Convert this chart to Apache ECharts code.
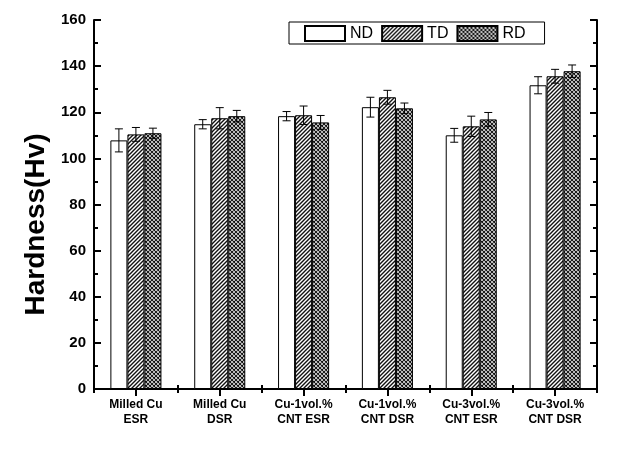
<!DOCTYPE html>
<html>
<head>
<meta charset="utf-8">
<script src="https://cdn.jsdelivr.net/npm/echarts@6/dist/echarts.min.js"></script>
<style>html,body{margin:0;padding:0;background:#fff}#c{width:644px;height:458px}</style>
</head>
<body>
<div id="c"></div>
<script>
var categories = ['Milled Cu\nESR','Milled Cu\nDSR','Cu-1vol.%\nCNT ESR','Cu-1vol.%\nCNT DSR','Cu-3vol.%\nCNT ESR','Cu-3vol.%\nCNT DSR'];
var seriesNames = ['ND','TD','RD'];
var ndValues = [107.8, 114.8, 118.3, 122.2, 110.0, 131.7];
var ndErr    = [5.0, 2.0, 2.0, 4.3, 3.0, 3.7];
var tdValues = [110.4, 117.4, 118.7, 126.5, 113.9, 135.6];
var tdErr    = [3.0, 4.6, 4.0, 3.0, 4.4, 3.0];
var rdValues = [110.9, 118.3, 115.6, 121.7, 116.9, 137.8];
var rdErr    = [2.2, 2.5, 3.0, 2.3, 3.0, 2.7];
var yTicks = [0, 20, 40, 60, 80, 100, 120, 140, 160];

function makeHatch() {
  var c = document.createElement('canvas'); c.width = 4; c.height = 4;
  var g = c.getContext('2d');
  g.fillStyle = '#fff'; g.fillRect(0,0,4,4);
  g.strokeStyle = '#111'; g.lineWidth = 1.4;
  g.beginPath();
  g.moveTo(-1,5); g.lineTo(5,-1);
  g.moveTo(-1,1); g.lineTo(1,-1);
  g.moveTo(3,5); g.lineTo(5,3);
  g.stroke();
  return c;
}
function makeCross() {
  var c = document.createElement('canvas'); c.width = 4; c.height = 4;
  var g = c.getContext('2d');
  g.fillStyle = '#fff'; g.fillRect(0,0,4,4);
  g.strokeStyle = '#111'; g.lineWidth = 1.1;
  g.beginPath();
  g.moveTo(-1,5); g.lineTo(5,-1);
  g.moveTo(-1,1); g.lineTo(1,-1);
  g.moveTo(3,5); g.lineTo(5,3);
  g.moveTo(-1,-1); g.lineTo(5,5);
  g.moveTo(-1,3); g.lineTo(1,5);
  g.moveTo(3,-1); g.lineTo(5,1);
  g.stroke();
  return c;
}

var fills = ['#ffffff', {image: makeHatch(), repeat: 'repeat'}, {image: makeCross(), repeat: 'repeat'}];
var values = [ndValues, tdValues, rdValues];
var errs = [ndErr, tdErr, rdErr];
var BARFRAC = 0.203;

var series = [];
seriesNames.forEach(function (name, i) {
  series.push({
    name: name, type: 'bar', xAxisIndex: 0, yAxisIndex: 0,
    barWidth: (BARFRAC * 100) + '%', barGap: '0%',
    data: values[i],
    itemStyle: {color: fills[i], borderColor: '#000', borderWidth: 1},
    emphasis: {disabled: true}, z: 2
  });
});
seriesNames.forEach(function (name, i) {
  series.push({
    type: 'custom', xAxisIndex: 0, yAxisIndex: 0, z: 5,
    data: values[i].map(function (v, k) { return [k, v, errs[i][k]]; }),
    renderItem: function (params, api) {
      var k = api.value(0), v = api.value(1), e = api.value(2);
      var band = api.size([1, 0])[0];
      var off = (i - 1) * band * BARFRAC;
      var top = api.coord([k, v + e]);
      var bot = api.coord([k, v - e]);
      var x = top[0] + off;
      var hw = 4;
      var st = {stroke: '#000', lineWidth: 1};
      return {type: 'group', children: [
        {type: 'line', shape: {x1: x, y1: top[1], x2: x, y2: bot[1]}, style: st},
        {type: 'line', shape: {x1: x - hw, y1: top[1], x2: x + hw, y2: top[1]}, style: st},
        {type: 'line', shape: {x1: x - hw, y1: bot[1], x2: x + hw, y2: bot[1]}, style: st}
      ]};
    }
  });
});

var axLine = {show: true, lineStyle: {color: '#000', width: 2}};
var chart = echarts.init(document.getElementById('c'));
chart.setOption({
  animation: false,
  backgroundColor: '#fff',
  grid: {left: 94, right: 47, top: 20, bottom: 69, containLabel: false},
  legend: {
    data: seriesNames, left: 289, top: 22, orient: 'horizontal',
    itemWidth: 40, itemHeight: 15, itemGap: 8,
    padding: [3, 19, 2, 15],
    borderColor: '#000', borderWidth: 1,
    icon: 'rect',
    textStyle: {fontFamily: 'Liberation Sans', fontSize: 16, color: '#000'},
    selectedMode: false
  },
  xAxis: [{
    type: 'category', data: categories, position: 'bottom',
    axisLine: axLine,
    axisTick: {show: true, inside: true, length: 4, lineStyle: {color: '#000', width: 2}},
    axisLabel: {fontFamily: 'Liberation Sans', fontWeight: 'bold', fontSize: 12, color: '#000', margin: 8, lineHeight: 15, interval: 0},
    splitLine: {show: false}
  }, {
    type: 'value', position: 'top', min: 0, max: 6, interval: 1,
    axisLine: axLine,
    axisTick: {show: true, inside: true, length: 4, lineStyle: {color: '#000', width: 2}},
    minorTick: {show: true, splitNumber: 2, length: 7, lineStyle: {color: '#000', width: 2}},
    axisLabel: {show: false}, splitLine: {show: false}, minorSplitLine: {show: false}
  }],
  yAxis: [{
    type: 'value', position: 'left', min: yTicks[0], max: yTicks[yTicks.length - 1], interval: 20,
    name: 'Hardness(Hv)', nameLocation: 'middle', nameGap: 44, nameRotate: 90,
    nameTextStyle: {fontFamily: 'Liberation Sans', fontWeight: 'bold', fontSize: 28, color: '#000', padding: [0, 40, 0, 0]},
    axisLine: axLine,
    axisTick: {show: true, inside: true, length: 7, lineStyle: {color: '#000', width: 2}},
    minorTick: {show: true, splitNumber: 2, length: 4, lineStyle: {color: '#000', width: 2}},
    axisLabel: {fontFamily: 'Liberation Sans', fontWeight: 'bold', fontSize: 15, color: '#000', margin: 8},
    splitLine: {show: false}, minorSplitLine: {show: false}
  }, {
    type: 'value', position: 'right', min: yTicks[0], max: yTicks[yTicks.length - 1], interval: 20,
    axisLine: axLine,
    axisTick: {show: true, inside: true, length: 7, lineStyle: {color: '#000', width: 2}},
    minorTick: {show: true, splitNumber: 2, length: 4, lineStyle: {color: '#000', width: 2}},
    axisLabel: {show: false}, splitLine: {show: false}, minorSplitLine: {show: false}
  }],
  series: series
});
</script>
</body>
</html>
